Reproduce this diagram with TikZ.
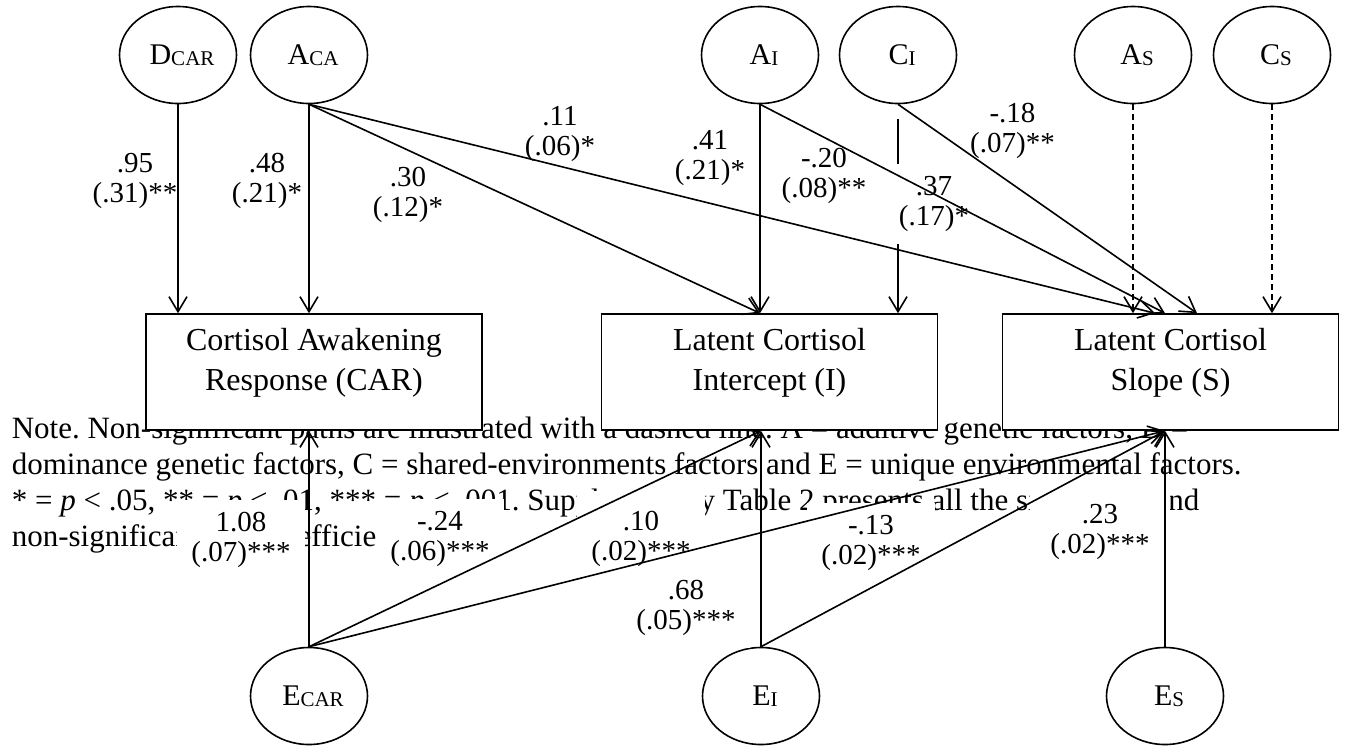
\documentclass[tikz,border=0pt]{standalone}
\usepackage{fontspec}
\setmainfont{Liberation Serif}
\usetikzlibrary{shapes.geometric,arrows.meta}
\newcommand{\subtxt}[1]{\raisebox{-0.6pt}{\fontsize{10.5}{12}\selectfont #1}}
\frenchspacing
\begin{document}
\begin{tikzpicture}[x=0.5pt,y=-0.5pt,line width=0.8pt]
        \tikzstyle{latent}=[ellipse,draw=black,fill=white,minimum width=58.5pt,minimum height=48.5pt,inner sep=0pt,font=\fontsize{15}{18}\selectfont,execute at begin node=\hspace*{4pt}]
        \tikzstyle{measure}=[rectangle,draw=black,fill=white,minimum width=168pt,minimum height=58pt,align=center,text depth=12.5pt,font=\fontsize{16}{20}\selectfont]
        \tikzstyle{coef}=[fill=white,align=center,inner xsep=7pt,inner ysep=6pt,font=\fontsize{14.5}{15}\selectfont]
        \tikzstyle{note}=[align=left,inner sep=0pt,anchor=north west,font=\fontsize{15.5}{18}\selectfont]
        \tikzstyle{link}=[draw,-{Straight Barb[length=7.5pt,width=9pt]}]
        \tikzstyle{nslink}=[link,dash pattern=on 3pt off 2pt]
        \useasboundingbox (0,0) rectangle (1348,746);
        % note under the figure
        \node [note] (note) at (11,415.5) {Note. Non-significant paths are illustrated with a dashed line. A = additive genetic factors, D =\\
          dominance genetic factors, C = shared-environments factors and E = unique environmental factors.\\
          * = \emph{p} < .05, ** = \emph{p} < .01, *** = \emph{p} < .001. Supplementary Table 2 presents all the significant and\\
          non-significant path coefficients.};
        % latent factors
        \node [latent] (Dcar) at (178,55) {D\subtxt{CAR}};
        \node [latent] (Aca) at (309,55) {A\subtxt{CA}};
        \node [latent] (Ai) at (760,55) {A\subtxt{I}};
        \node [latent] (Ci) at (898,55) {C\subtxt{I}};
        \node [latent] (As) at (1133,55) {A\subtxt{S}};
        \node [latent] (Cs) at (1272,55) {C\subtxt{S}};
        \node [latent] (Ecar) at (309,696) {E\subtxt{CAR}};
        \node [latent] (Ei) at (761,696) {E\subtxt{I}};
        \node [latent] (Es) at (1165,696) {E\subtxt{S}};
        % measures
        \node [measure] (CAR) at (314,372) {Cortisol Awakening\\Response (CAR)};
        \node [measure] (I) at (769.5,372) {Latent Cortisol\\Intercept (I)};
        \node [measure] (S) at (1170.5,372) {Latent Cortisol\\Slope (S)};
        \draw[link,shorten <=7.5pt] (Ci.south) -- (Ci.south |- I.north);
        % coefficients
        \node [coef] (l95) at (135,181) {.95\\(.31)**};
        \node [coef] (l48) at (267,181) {.48\\(.21)*};
        \node [coef] (l30) at (408,195) {.30\\(.12)*};
        \node [coef] (l11) at (560,134) {.11\\(.06)*};
        \node [coef] (l41) at (710,158) {.41\\(.21)*};
        \node [coef] (l20) at (824,176) {-.20\\(.08)**};
        \node [coef] (l37) at (934,204) {.37\\(.17)*};
        \node [coef] (l18) at (1012.5,131) {-.18\\(.07)**};
        \node [coef] (l108) at (241,540) {1.08\\(.07)***};
        \node [coef] (l24) at (440,539) {-.24\\(.06)***};
        \node [coef,inner ysep=10pt] (l10) at (641,539) {.10\\(.02)***};
        \node [coef] (l68) at (686,608) {.68\\(.05)***};
        \node [coef] (l13) at (871,543) {-.13\\(.02)***};
        \node [coef,inner ysep=9pt,inner xsep=10pt] (l23) at (1100,532) {.23\\(.02)***};
        % paths
        \draw[link] (Dcar.south) -- (Dcar.south |- CAR.north);
        \draw[link] (Aca.south) -- (Aca.south |- CAR.north);
        \draw[link] (Aca.south) -- (Ai.south |- I.north);
        \draw[link] (Aca.south) -- ([xshift=-7.75pt]S.north);
        \draw[link] (Ai.south) -- (Ai.south |- I.north);
        \draw[link] (Ai.south) -- ([xshift=-2.75pt]S.north);
        \draw[link] (Ci.south) -- ([xshift=13.25pt]S.north);
        \draw[nslink] (As.south) -- (As.south |- S.north);
        \draw[nslink] (Cs.south) -- (Cs.south |- S.north);
        \draw[link] (Ecar.north) -- (Ecar.north |- CAR.south);
        \draw[link] (Ecar.north) -- (Ei.north |- I.south);
        \draw[link] (Ecar.north) -- (Es.north |- S.south);
        \draw[link] (Ei.north) -- (Ei.north |- I.south);
        \draw[link] (Ei.north) -- (Es.north |- S.south);
        \draw[link] (Es.north) -- (Es.north |- S.south);
\end{tikzpicture}
\end{document}
